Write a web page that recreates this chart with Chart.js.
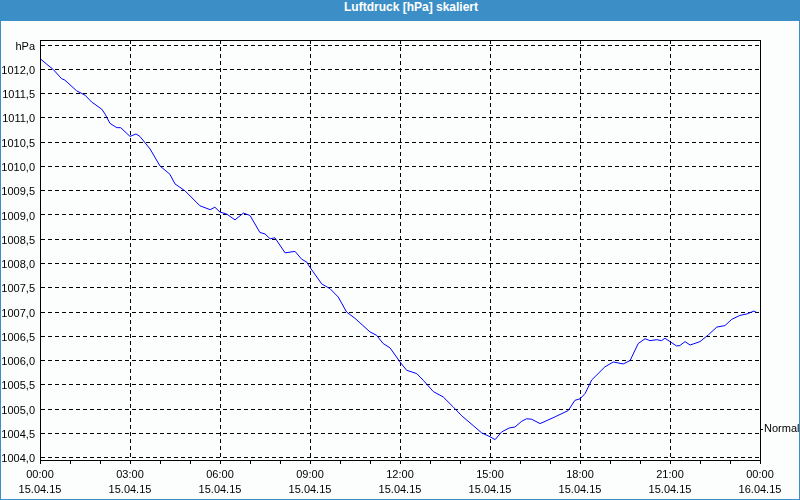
<!DOCTYPE html>
<html>
<head>
<meta charset="utf-8">
<title>Luftdruck</title>
<script src="https://cdn.jsdelivr.net/npm/chart.js@4/dist/chart.umd.min.js"></script>
<style>
  body { margin: 0; background: #fff; }
  #frame { width: 798px; height: 499px; border: 1px solid #3c8fc6; border-top: 0; background: #fcfefd; }
  #title { height: 21px; line-height: 21px; background: #3c8fc6; color: #fff; text-align: center;
           font: bold 12px 'Liberation Sans', sans-serif; margin: 0 -1px; padding-left: 22px; }
  #wrap { width: 798px; height: 478px; }
</style>
</head>
<body>
<div id="frame">
  <div id="title">Luftdruck [hPa] skaliert</div>
  <div id="wrap"><canvas id="pressGraph"></canvas></div>
</div>
<script>
// hours since 15.04.15 00:00
const hours = [0.03, 0.22, 0.44, 0.72, 0.83, 1.22, 1.5, 1.72, 2.06, 2.17, 2.33, 2.56, 2.69, 3.0, 3.2, 3.33,
  3.67, 4.0, 4.33, 4.5, 4.83, 5.33, 5.67, 5.83, 6.0, 6.22, 6.5, 6.78, 7.0, 7.33, 7.5, 7.67, 7.83, 8.17, 8.5,
  8.72, 8.89, 9.0, 9.39, 9.67, 9.94, 10.22, 10.5, 11.0, 11.22, 11.44, 11.67, 12.0, 12.22, 12.56, 12.78, 13.11,
  13.44, 13.78, 14.06, 14.44, 14.72, 15.0, 15.17, 15.39, 15.64, 15.83, 16.06, 16.22, 16.39, 16.67, 17.17,
  17.61, 17.83, 18.0, 18.17, 18.39, 18.83, 19.11, 19.44, 19.67, 19.94, 20.17, 20.33, 20.56, 20.72, 20.83,
  21.0, 21.22, 21.33, 21.5, 21.67, 22.0, 22.28, 22.56, 22.83, 23.06, 23.33, 23.56, 23.8, 23.89];
const pressure = [1012.21, 1012.11, 1012.00, 1011.81, 1011.78, 1011.56, 1011.47, 1011.33, 1011.18, 1011.08,
  1010.89, 1010.80, 1010.80, 1010.62, 1010.67, 1010.62, 1010.36, 1010.01, 1009.84, 1009.64, 1009.50, 1009.19,
  1009.11, 1009.16, 1009.06, 1009.02, 1008.90, 1009.04, 1008.99, 1008.64, 1008.61, 1008.51, 1008.53, 1008.22,
  1008.25, 1008.09, 1008.03, 1007.92, 1007.58, 1007.48, 1007.31, 1007.00, 1006.87, 1006.59, 1006.52, 1006.35,
  1006.26, 1005.97, 1005.80, 1005.73, 1005.59, 1005.36, 1005.25, 1005.04, 1004.86, 1004.66, 1004.51, 1004.43,
  1004.37, 1004.53, 1004.61, 1004.63, 1004.75, 1004.80, 1004.79, 1004.70, 1004.84, 1004.97, 1005.18, 1005.21,
  1005.32, 1005.60, 1005.87, 1005.97, 1005.93, 1006.00, 1006.35, 1006.45, 1006.41, 1006.43, 1006.41, 1006.46,
  1006.39, 1006.30, 1006.31, 1006.39, 1006.32, 1006.39, 1006.53, 1006.69, 1006.72, 1006.85, 1006.93, 1006.96,
  1007.02, 1006.99];

const xTickHours = [0, 3, 6, 9, 12, 15, 18, 21, 24];
const xTickTimes = ['00:00', '03:00', '06:00', '09:00', '12:00', '15:00', '18:00', '21:00', '00:00'];
const xTickDates = ['15.04.15', '15.04.15', '15.04.15', '15.04.15', '15.04.15', '15.04.15', '15.04.15', '15.04.15', '16.04.15'];
const yTicks = [1004, 1004.5, 1005, 1005.5, 1006, 1006.5, 1007, 1007.5, 1008, 1008.5, 1009, 1009.5,
  1010, 1010.5, 1011, 1011.5, 1012, 1012.5];
const yUnitTick = 1012.5;   // top tick shows the unit instead of a number
const normalValue = 1004.58;

const Y_MIN = 1003.95, Y_MAX = 1012.607;
const tickFont = { family: 'Liberation Sans', size: 11, lineHeight: 15 / 11 };

// box around the plot (top edge; others come from the axes)
const frameBox = {
    id: 'frameBox',
    afterDraw(chart) {
        const a = chart.chartArea, c = chart.ctx;
        c.save();
        c.strokeStyle = '#000';
        c.lineWidth = 1;
        c.beginPath();
        c.moveTo(a.left, Math.round(a.top) + 0.5);
        c.lineTo(a.right + 1, Math.round(a.top) + 0.5);
        c.stroke();
        c.restore();
    }
};

document.addEventListener('DOMContentLoaded', function () {
    const ctx = document.getElementById('pressGraph').getContext('2d');
    new Chart(ctx, {
        type: 'line',
        data: {
            datasets: [{
                label: 'Luftdruck',
                data: hours.map((h, i) => ({ x: h, y: pressure[i] })),
                borderColor: '#0000ff',
                borderWidth: 1,
                pointRadius: 0,
                tension: 0,
                yAxisID: 'y'
            }]
        },
        options: {
            responsive: true,
            maintainAspectRatio: false,
            animation: false,
            layout: { padding: { top: 19, left: 0, right: 0, bottom: 0 } },
            plugins: { legend: { display: false }, tooltip: { enabled: false } },
            scales: {
                x: {
                    type: 'linear',
                    min: 0,
                    max: 24,
                    afterBuildTicks: function (s) {
                        const t = [];
                        for (let h = 0; h <= 24; h++) t.push({ value: h });
                        s.ticks = t;
                    },
                    afterFit: function (s) { s.height = 39; },
                    grid: {
                        color: c => (c.tick && c.tick.value % 3 === 0) ? '#000' : 'rgba(0,0,0,0)',
                        tickColor: '#000',
                        tickLength: 4,
                        tickBorderDash: []
                    },
                    border: { color: '#000', dash: [4, 3] },
                    ticks: {
                        autoSkip: false,
                        maxRotation: 0,
                        padding: 3,
                        color: '#000',
                        font: tickFont,
                        callback: function (v) {
                            const k = xTickHours.indexOf(v);
                            return k < 0 ? '' : [xTickTimes[k], xTickDates[k]];
                        }
                    }
                },
                y: {
                    position: 'left',
                    min: Y_MIN,
                    max: Y_MAX,
                    afterBuildTicks: function (s) { s.ticks = yTicks.map(v => ({ value: v })); },
                    afterFit: function (s) { s.width = 39; },
                    grid: { color: '#000', drawTicks: false },
                    border: { color: '#000', dash: [4, 3] },
                    ticks: {
                        padding: 5,
                        labelOffset: 1.5,
                        color: '#000',
                        font: tickFont,
                        callback: function (v) {
                            return v === yUnitTick ? 'hPa' : v.toFixed(1).replace('.', ',');
                        }
                    }
                },
                normal: {
                    position: 'right',
                    min: Y_MIN,
                    max: Y_MAX,
                    afterBuildTicks: function (s) { s.ticks = [{ value: normalValue }]; },
                    afterFit: function (s) { s.width = 39; },
                    grid: { drawOnChartArea: false, color: '#000', tickLength: 3 },
                    border: { color: '#000' },
                    ticks: {
                        padding: 1,
                        color: '#000',
                        font: tickFont,
                        callback: () => 'Normal'
                    }
                }
            }
        },
        plugins: [frameBox]
    });
});
</script>
</body>
</html>
